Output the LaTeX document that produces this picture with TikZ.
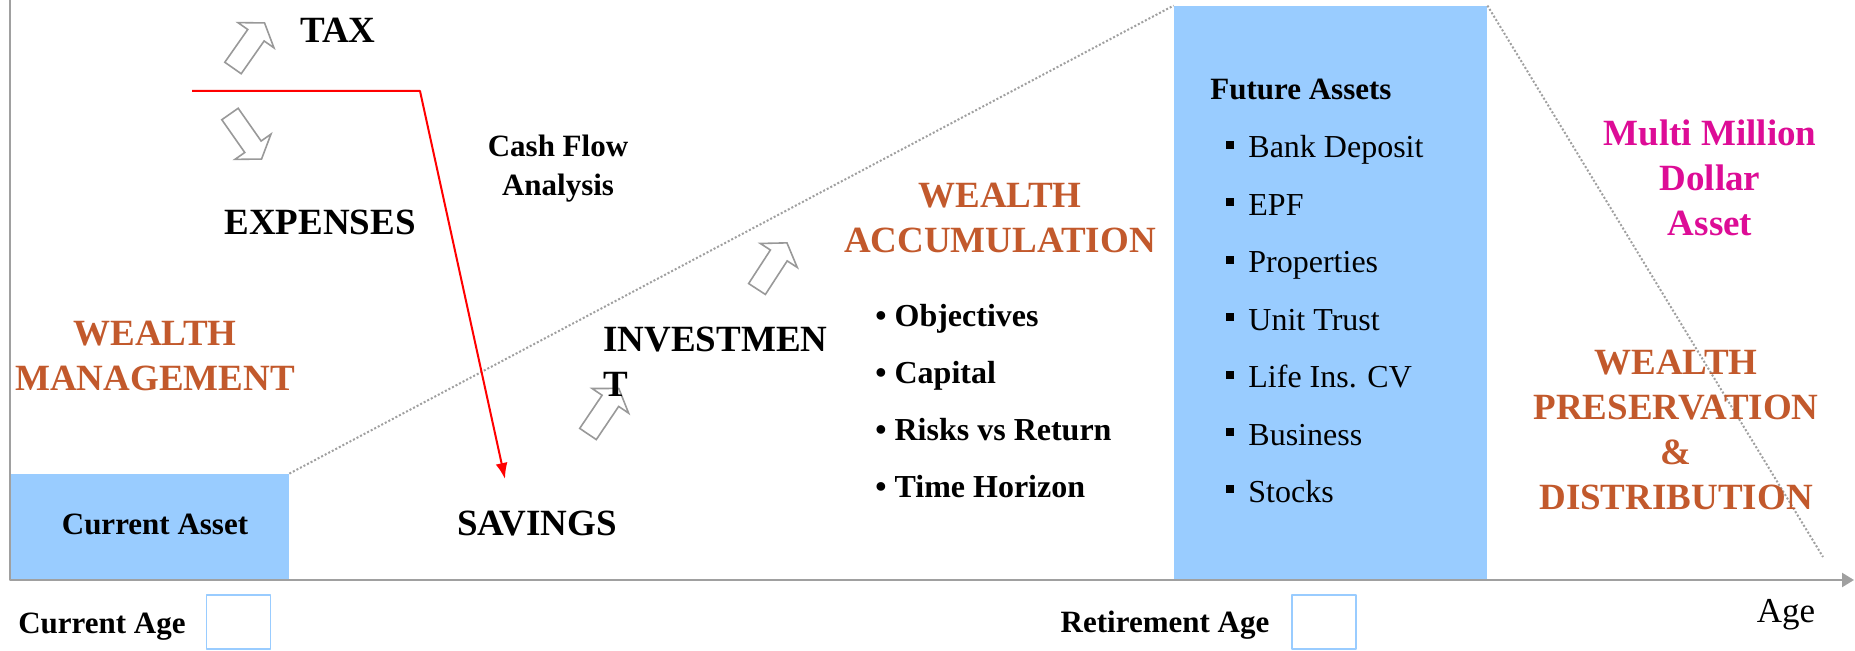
\documentclass[tikz,border=0pt]{standalone}
\usepackage{fontspec}
\setmainfont{Liberation Serif}
\usetikzlibrary{arrows.meta}

\definecolor{wealthorange}{RGB}{194,89,44}
\definecolor{millionpink}{RGB}{221,12,150}
\definecolor{assetblue}{RGB}{153,204,255}
\definecolor{axisgray}{RGB}{160,160,160}

\newcommand{\bigsize}{\fontsize{18.5}{22.5}\selectfont}
\newcommand{\midsize}{\fontsize{15.5}{19.5}\selectfont}

\tikzset{
  headline/.style={font=\bigsize\bfseries, inner sep=0pt},
  stage/.style={headline, text=wealthorange, align=center},
  smalltag/.style={font=\midsize\bfseries, inner sep=0pt},
  assetbox/.style={fill=assetblue, inner sep=0pt},
  agebox/.style={draw=assetblue, line width=0.8pt, minimum width=32pt, minimum height=27pt, inner sep=0pt},
  guide/.style={draw=axisgray, line width=1pt, dash pattern=on 1pt off 1pt},
  hollow/.style={draw=gray!80, line width=0.8pt, fill=white, line join=miter},
  cashflow/.style={red, line width=1pt, -{Latex[length=8pt,width=6pt]}},
  axis/.style={draw=axisgray, line width=1.2pt}
}

% hollow block arrow: #1 tail centre, #2 direction
\newcommand{\blockarrow}[2]{%
  \draw[hollow, shift={#1}, rotate=#2]
    (0,-10) -- (40,-10) -- (40,-22) -- (55,0) -- (40,22) -- (40,10) -- (0,10) -- cycle;}

\begin{document}
\begin{tikzpicture}[x=0.5pt, y=-0.5pt, line join=round]
  \useasboundingbox (0,0) rectangle (1855,651);

  % asset boxes
  \node[assetbox, minimum width=139.5pt, minimum height=53pt] (curbox) at (149.5,527) {};
  \node[assetbox, minimum width=156.5pt, minimum height=287pt] (futbox) at (1330.5,293) {};

  % age axis
  \draw[axis, -{Triangle[length=6pt,width=7pt]}] (10,0) -- (10,580) -- (1854,580);

  % growth and run-down guides
  \coordinate (fade) at (1823,557);
  \draw[guide] (curbox.north east) -- (futbox.north west);
  \draw[guide] (futbox.north east) -- (fade);

  % cash flow split
  \node[headline] (tax) at (338,30) {TAX};
  \node[headline] (exp) at (320,222) {EXPENSES};
  \node[headline] (sav) at (537,524) {SAVINGS};
  \node[smalltag, align=center] (cfa) at (558,169) {Cash Flow\\Analysis};
  \coordinate (split) at (192,91);
  \coordinate (turn) at (420,91);
  \coordinate (savtop) at (505,479);
  \draw[cashflow] (split) -- (turn) -- (savtop);

  \blockarrow{(233,68)}{55}
  \blockarrow{(230,114)}{-55}
  \blockarrow{(757,289)}{57}
  \blockarrow{(588,434)}{56}

  \node[headline, anchor=north west, align=left] (inv) at (603,327) {INVESTMEN\\T};

  % stages
  \node[stage] (mgmt) at (155,356) {WEALTH\\MANAGEMENT};
  \node[stage] (accum) at (1000,218) {WEALTH\\ACCUMULATION};
  \node[stage] (pres) at (1676,430) {WEALTH\\PRESERVATION\\\&\\DISTRIBUTION};
  \node[headline, text=millionpink, align=center] (mil) at (1710,178) {Multi Million\\Dollar\\Asset};

  \foreach \txt [count=\i from 0] in {Objectives, Capital, Risks vs Return, Time Horizon}
    \node[font=\fontsize{16}{19}\selectfont\bfseries, anchor=base west, inner sep=0pt]
      (goal\i) at (875,327+56.7*\i) {\textbullet\ \txt};

  % assets
  \node[smalltag] (curtxt) at (155,524) {Current Asset};
  \node[smalltag, anchor=base west] (futtxt) at (1210,100) {Future Assets};
  \foreach \txt [count=\i from 0] in {Bank Deposit, EPF, Properties, Unit Trust, Life Ins. CV, Business, Stocks} {
    \node[fill, minimum size=4pt, inner sep=0pt] (sq\i) at (1230,145+57.4*\i) {};
    \node[font=\fontsize{16}{19}\selectfont, anchor=base west, inner sep=0pt]
      (fa\i) at (1248,158+57.4*\i) {\txt};
  }

  % ages
  \node[smalltag, anchor=base] (curage) at (102,633) {Current Age};
  \node[agebox] (curbx) at (238.5,622) {};
  \node[smalltag, anchor=base] (retage) at (1165,632) {Retirement Age};
  \node[agebox] (retbx) at (1324,622) {};
  \node[font=\fontsize{17.5}{20}\selectfont, anchor=base] (age) at (1786,622) {Age};
\end{tikzpicture}
\end{document}
